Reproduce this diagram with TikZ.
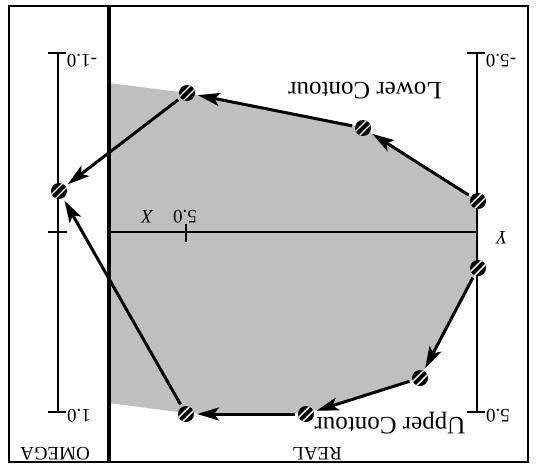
\documentclass[tikz,border=0pt]{standalone}
\usepackage{fontspec}
\setmainfont{Liberation Serif}
\usetikzlibrary{arrows.meta}
\definecolor{regiongray}{RGB}{191,191,191}
\begin{document}
\begin{tikzpicture}[x=1pt,y=-1pt,
  framebox/.style={line width=2.6pt},
  divider/.style={line width=4.5pt},
  axisline/.style={line width=1.8pt},
  flow/.style={line width=3pt, -{Stealth[length=22pt,width=13pt,inset=5pt]}},
  hatchpt/.style={circle, fill=black, minimum size=16pt, inner sep=0pt, outer sep=3pt,
    path picture={
      \draw[white, line width=1.4pt]
        ([shift={(-10pt,-6pt)}]path picture bounding box.center) -- ++(16pt,16pt)
        ([shift={(-6pt,-10pt)}]path picture bounding box.center) -- ++(16pt,16pt);
    }},
  lbl/.style={rotate=180, font=\fontsize{19}{19}\selectfont, inner sep=0pt},
  biglbl/.style={rotate=180, font=\fontsize{25}{25}\selectfont, inner sep=0pt}]

\useasboundingbox (0,0) rectangle (540,466);
\fill[white] (0,0) rectangle (540,466);

% shaded region
\fill[regiongray] (109,83) -- (187,93) -- (363,128) -- (478,201) -- (478,268)
  -- (420,378) -- (306,413) -- (186,413) -- (109,403) -- cycle;

% coordinates
\coordinate (om-top) at (58,53);
\coordinate (om-bot) at (58,412);
\coordinate (om-mid) at (58,232);
\coordinate (y-top) at (477,53);
\coordinate (y-bot) at (477,412);
\coordinate (x-left) at (109,232);
\coordinate (x-right) at (477,232);
\coordinate (x-tick) at (186,232);

% frame
\draw[framebox] (9,6) rectangle (528,462);
\draw[divider] (109,6) -- (109,462);

% omega axis
\draw[axisline] (om-top) -- (om-bot);
\draw[axisline] ([xshift=-10pt]om-top) -- ([xshift=8pt]om-top);
\draw[axisline] ([xshift=-10pt]om-bot) -- ([xshift=8pt]om-bot);
\draw[axisline] ([xshift=-10pt]om-mid) -- ([xshift=9pt]om-mid);

% real axes
\draw[axisline] (y-top) -- (y-bot);
\draw[axisline] ([xshift=-10pt]y-top) -- ([xshift=8pt]y-top);
\draw[axisline] ([xshift=-10pt]y-bot) -- ([xshift=8pt]y-bot);
\draw[axisline] (x-left) -- (x-right);
\draw[axisline] ([yshift=8pt]x-tick) -- ([yshift=-10pt]x-tick);

% labels
\node[lbl] (l-om1) at (82,61) {-1.0};
\node[lbl] (l-om2) at (79,416) {1.0};
\node[lbl] (l-y1) at (501,61) {-5.0};
\node[lbl] (l-y2) at (498,416) {5.0};
\node[lbl] (l-y) at (502,238) {\itshape Y};
\node[lbl] (l-x) at (147,217) {\itshape X};
\node[lbl] (l-x5) at (185,217) {5.0};
\node[lbl] (l-omega) at (55,454) {OMEGA};
\node[lbl] (l-real) at (317,454) {REAL};
\node[biglbl] (l-lower) at (365,91) {Lower Contour};
\node[biglbl] (l-upper) at (390,423) {Upper Contour};

% points
\node[hatchpt] (p1) at (187,93) {};
\node[hatchpt] (p2) at (363,128) {};
\node[hatchpt] (p3) at (478,201) {};
\node[hatchpt] (p4) at (478,268) {};
\node[hatchpt] (p5) at (420,378) {};
\node[hatchpt] (p6) at (306,414) {};
\node[hatchpt] (p7) at (186,414) {};
\node[hatchpt] (p8) at (59,191) {};

% contour arrows
\draw[flow] (p3) -- (p2);
\draw[flow] (p2) -- (p1);
\draw[flow] (p1) -- (p8);
\draw[flow] (p4) -- (p5);
\draw[flow] (p5) -- (p6);
\draw[flow] (p6) -- (p7);
\draw[flow] (p7) -- (p8);
\end{tikzpicture}
\end{document}
